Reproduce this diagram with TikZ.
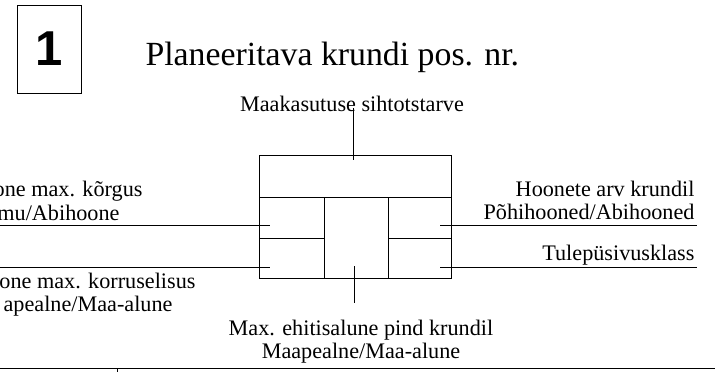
\documentclass[tikz,border=0pt]{standalone}
\usepackage{fontspec}
\setmainfont{Liberation Serif}
\newfontfamily\numfont{Liberation Sans}
\usetikzlibrary{calc, positioning}
\tikzset{>=latex,
  lbl/.style={font=\fontsize{22.2}{26}\selectfont, inner sep=0pt},
  cell/.style={line width=1pt}}

\begin{document}
\begin{tikzpicture}[x=1pt, y=-1pt, line width=1pt]
    \useasboundingbox (0,0) rectangle (715,372);
    \node[draw, minimum width=64pt, minimum height=88pt, font=\numfont\bfseries\fontsize{49}{49}\selectfont]
    (nr) at (49,49) {1};
    \node[anchor=base west, inner sep=0pt, font=\fontsize{33.8}{36}\selectfont]
    (pealkiri) at (145,65) {Planeeritava krundi pos. nr.};
    \node[lbl, anchor=base] (siht) at (352,111) {Maakasutuse sihtotstarve};
    \node[lbl, anchor=base east] (korgus1) at (143,196) {one max. kõrgus};
    \node[lbl, anchor=base east] (korgus2) at (120,220) {mu/Abihoone};
    \node[lbl, anchor=base east] (korrus1) at (196,288) {one max. korruselisus};
    \node[lbl, anchor=base east] (korrus2) at (173,311) {apealne/Maa-alune};
    \node[lbl, anchor=base east] (arv1) at (695,196) {Hoonete arv krundil};
    \node[lbl, anchor=base east] (arv2) at (695,219) {Põhihooned/Abihooned};
    \node[lbl, anchor=base east] (tule) at (695,260) {Tulepüsivusklass};
    \node[lbl, anchor=base] (pind1) at (361,335) {Max. ehitisalune pind krundil};
    \node[lbl, anchor=base] (pind2) at (361,358) {Maapealne/Maa-alune};

    \draw (259,155) rectangle (451,278);
    \draw (259,197) -- (451,197);
    \draw (324,197) -- (324,278) (388,197) -- (388,278);
    \draw (259,238) -- (324,238) (388,238) -- (451,238);

    \coordinate (sihtA) at (353,108);
    \coordinate (sihtB) at (353,160);
    \coordinate (pindA) at (354,266);
    \coordinate (pindB) at (354,303);
    \coordinate (vasak1) at (0,225);
    \coordinate (vasak2) at (0,267);
    \coordinate (kast1) at (270,225);
    \coordinate (kast2) at (270,267);
    \coordinate (kast3) at (440,225);
    \coordinate (kast4) at (440,267);
    \coordinate (parem1) at (697,225);
    \coordinate (parem2) at (697,267);
    \draw (sihtA) -- (sihtB);
    \draw (pindA) -- (pindB);
    \draw (vasak1) -- (kast1);
    \draw (vasak2) -- (kast2);
    \draw (kast3) -- (parem1);
    \draw (kast4) -- (parem2);

    \coordinate (alus1) at (0,368);
    \coordinate (alus2) at (715,368);
    \coordinate (tick1) at (117,368);
    \coordinate (tick2) at (117,372);
    \draw (alus1) -- (alus2);
    \draw (tick1) -- (tick2);
\end{tikzpicture}
\end{document}
